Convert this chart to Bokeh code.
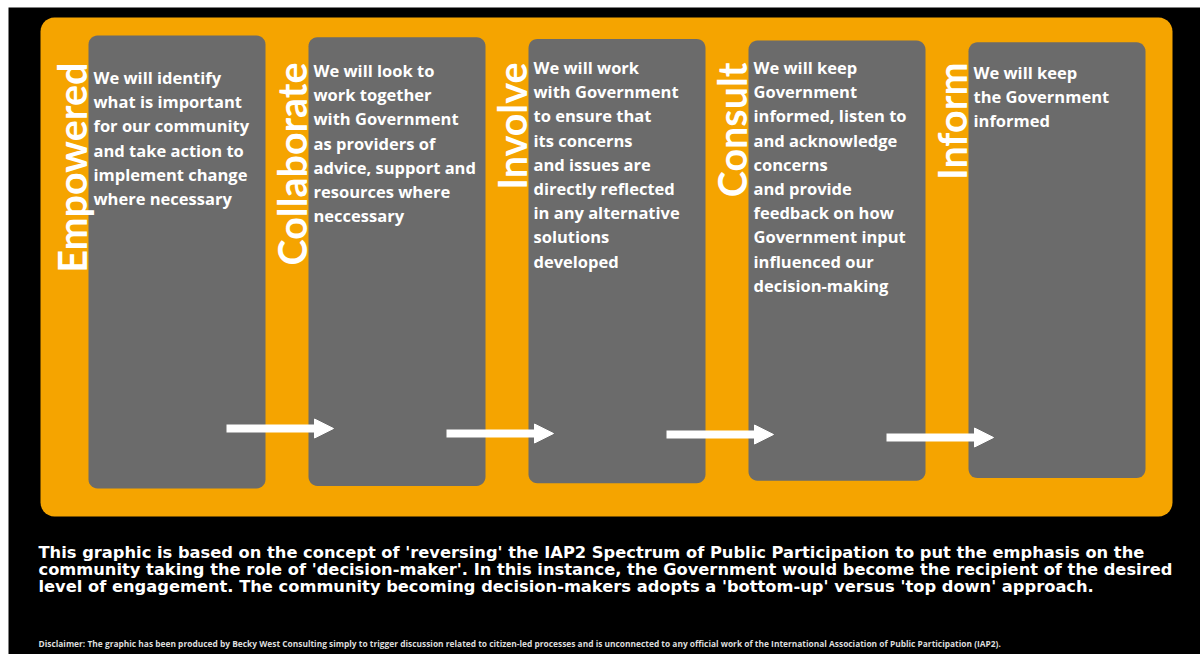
import numpy as np
from bokeh.plotting import figure
from bokeh.models import Range1d, Arrow, NormalHead
from bokeh.core.properties import value
from bokeh.embed import file_html
from bokeh.resources import INLINE

# ---- content -------------------------------------------------------------
stages = ["Empowered", "Collaborate", "Involve", "Consult", "Inform"]

desc_empowered = ["We will identify", "what is important", "for our community",
                  "and take action to", "implement change", "where necessary"]
desc_collaborate = ["We will look to", "work together", "with Government",
                    "as providers of", "advice, support and", "resources where",
                    "neccessary"]
desc_involve = ["We will work", "with Government", "to ensure that", "its concerns",
                "and issues are", "directly reflected", "in any alternative",
                "solutions", "developed"]
desc_consult = ["We will keep", "Government", "informed, listen to", "and acknowledge",
                "concerns", "and provide", "feedback on how", "Government input",
                "influenced our", "decision-making"]
desc_inform = ["We will keep", "the Government", "informed"]
descriptions = [desc_empowered, desc_collaborate, desc_involve, desc_consult, desc_inform]

note_lines = [
    "This graphic is based on the concept of 'reversing' the IAP2 Spectrum of Public Participation to put the emphasis on the",
    "community taking the role of 'decision-maker'. In this instance, the Government would become the recipient of the desired",
    "level of engagement. The community becoming decision-makers adopts a 'bottom-up' versus 'top down' approach.",
]
disclaimer = ("Disclaimer: The graphic has been produced by Becky West Consulting simply to trigger "
              "discussion related to citizen-led processes and is unconnected to any official work of "
              "the International Association of Public Participation (IAP2).")

# ---- styling / layout -----------------------------------------------------
ORANGE = "#f5a400"
GREY = "#6b6b6b"
W, H = 1200, 654

def rrect(x0, y0, x1, y1, r, n=8):
    xs, ys = [], []
    corners = [(x1 - r, y0 + r, -np.pi / 2, 0), (x1 - r, y1 - r, 0, np.pi / 2),
               (x0 + r, y1 - r, np.pi / 2, np.pi), (x0 + r, y0 + r, np.pi, 1.5 * np.pi)]
    for cx, cy, a0, a1 in corners:
        t = np.linspace(a0, a1, n)
        xs.extend(cx + r * np.cos(t))
        ys.extend(cy + r * np.sin(t))
    return list(xs), list(ys)

p = figure(width=W, height=H, output_backend="svg", toolbar_location=None,
           x_range=Range1d(0, W), y_range=Range1d(H, 0), min_border=0)
p.axis.visible = False
p.grid.visible = False
p.outline_line_color = None
p.background_fill_color = "white"
p.border_fill_color = "white"

# black canvas
p.quad(left=[8], right=[W], top=[7], bottom=[H], fill_color="black", line_color=None)

# orange panel
ox, oy = rrect(40, 17, 1172, 516, 14)
p.patch(ox, oy, fill_color=ORANGE, line_color=None)

n = len(stages)
lefts = [88 + 220 * i for i in range(n)]
tops = [35 + 1.7 * i for i in range(n)]
bottoms = [488 - 2.6 * i for i in range(n)]
bw = 177
bxs, bys = [], []
for i in range(n):
    xs, ys = rrect(lefts[i], tops[i], lefts[i] + bw, bottoms[i], 9)
    bxs.append(xs)
    bys.append(ys)
p.patches(bxs, bys, fill_color=GREY, line_color=None)

# vertical stage labels
p.text(x=[l - 17 for l in lefts], y=[62] * n, text=stages, angle=np.pi / 2,
       text_align="right", text_baseline="middle", text_color="white",
       text_font=value("Lato"), text_font_style="bold", text_font_size="39.5px")

# descriptions
first_y = [77, 70, 67, 67, 72]
tx, ty, tt = [], [], []
for i, lines in enumerate(descriptions):
    for k, line in enumerate(lines):
        tx.append(lefts[i] + 5)
        ty.append(first_y[i] + 24.2 * k)
        tt.append(line)
p.text(x=tx, y=ty, text=tt, text_align="left", text_baseline="middle",
       text_color="white", text_font=value("Open Sans"), text_font_style="bold",
       text_font_size="16.5px")

# arrows
arrow_y = [428, 433, 434, 437]
for i in range(n - 1):
    p.add_layout(Arrow(end=NormalHead(size=19, fill_color="white", line_color="white", line_width=1),
                       x_start=lefts[i] + 138, y_start=arrow_y[i],
                       x_end=lefts[i + 1] + 25, y_end=arrow_y[i],
                       line_color="white", line_width=8))

# note paragraph
p.text(x=[38] * len(note_lines), y=[552 + 17 * k for k in range(len(note_lines))],
       text=note_lines, text_align="left", text_baseline="middle", text_color="white",
       text_font=value("DejaVu Sans"), text_font_style="bold", text_font_size="16.3px")

# disclaimer
p.text(x=[38], y=[643], text=[disclaimer], text_align="left", text_baseline="middle",
       text_color="#dddddd", text_font=value("Open Sans"), text_font_style="bold",
       text_font_size="8.4px")

open("out.html", "w").write(file_html(p, INLINE))
